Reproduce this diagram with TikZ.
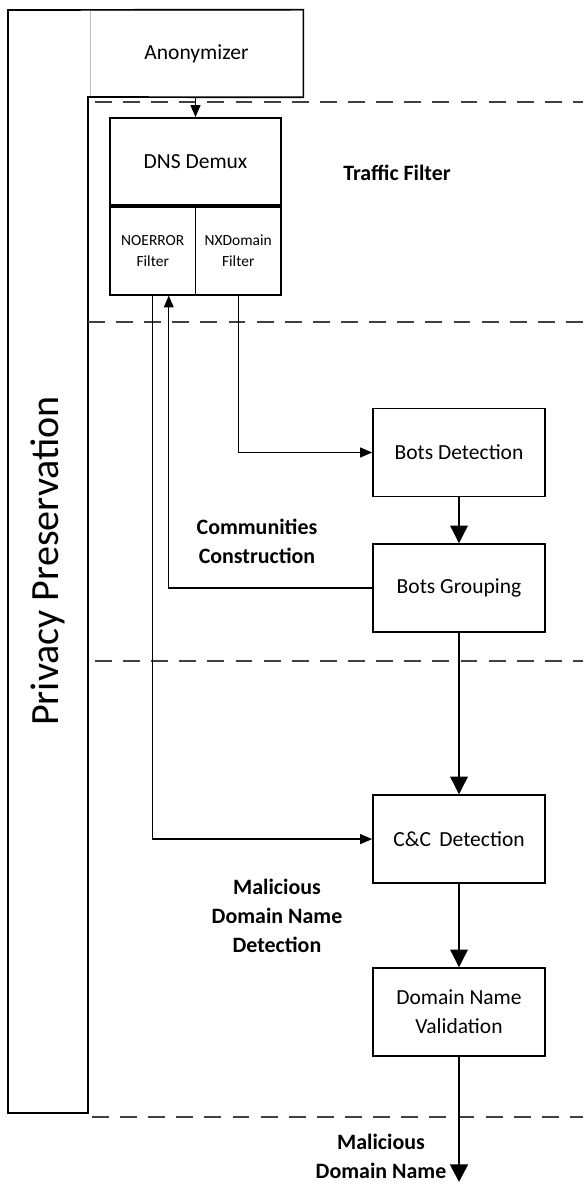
\documentclass[tikz,border=0pt]{standalone}
\usepackage{fontspec}
\setmainfont{Carlito}
\usetikzlibrary{arrows.meta,positioning}

\begin{document}
\begin{tikzpicture}
		\tikzstyle{block} =[ draw, line width=1.2pt, text width = 4.3cm, minimum height=2.2cm, inner sep=0pt, text badly centered, font=\fontsize{15.3}{20.6}\selectfont];
		\tikzstyle{filt} =[ draw, line width=1.2pt, text width = 2.1375cm, minimum height=2.2cm, inner sep=0pt, text badly centered, font=\fontsize{11}{15}\selectfont];
		\tikzstyle{stage} =[ align=center, font=\bfseries\fontsize{15.6}{20.5}\selectfont];
		\tikzstyle{divider} =[ dash pattern=on 12pt off 8pt, line width=2pt, black!75];
		\tikzstyle{link} =[ line width=0.9pt, -{Triangle[length=8.5pt,width=7pt]}];
		\tikzstyle{flow} =[ line width=0.9pt, -{Triangle[length=12.5pt,width=12.5pt]}];
		\useasboundingbox (0,0) rectangle (14.575,-29.6);

		\node[block, text width=5.325cm, minimum height=2.175cm, draw=black!25, line width=0.5pt] (anon) at (4.9125,-1.3375) {Anonymizer};
		\node[block, text width=4.275cm, minimum height=2.175cm] (demux) at (4.8875,-4.0375) {DNS Demux};
		\node[filt, anchor=north west] (noerr) at (demux.south west) {NOERROR\\Filter};
		\node[filt, anchor=north east] (nxdom) at (demux.south east) {NXDomain\\Filter};
		\node[block] (botdet) at (11.475,-11.3125) {Bots Detection};
		\node[block, below of = botdet, node distance=3.39cm] (botgrp) {Bots Grouping};
		\node[block, below of = botgrp, node distance=6.275cm] (cnc) {C\&C\, Detection};
		\node[block, below of = cnc, node distance=4.325cm] (dnv) {Domain Name\\Validation};
		\coordinate (sink) at (11.475,-29.55);

		\node[rotate=90, font=\fontsize{28.5}{34}\selectfont] (priv) at (1.2,-14.025) {Privacy Preservation};
		\node[stage] (traffic) at (9.925,-4.325) {Traffic Filter};
		\node[stage] (commun) at (6.425,-13.525) {Communities\\Construction};
		\node[stage] (maldet) at (6.925,-22.9) {Malicious\\Domain Name\\Detection};
		\node[stage] (malout) at (9.525,-28.9) {Malicious\\Domain Name};

		\draw[line width=1.2pt] (0.2,-0.25) -- (anon.north east) -- (anon.south east) -- (2.2,-2.425) -- (2.2,-27.825) -- (0.2,-27.825) -- cycle;

		% stage borders
		\draw[divider] (2.375,-2.55) -- (14.575,-2.55);
		\draw[divider] (2.2,-8.05) -- (14.575,-8.05);
		\draw[divider] (2.375,-16.525) -- (14.575,-16.525);
		\draw[divider] (2.3,-27.925) -- (14.575,-27.925);

		\draw[link] (demux.north |- anon.south) -- (demux.north);
		\draw[link] (noerr.south) |- (cnc.west);
		\draw[link] (botgrp.west) -| ([xshift=0.4cm]noerr.south);
		\draw[link] (nxdom.south) |- (botdet.west);
		\draw[flow] (botdet) -- (botgrp);
		\draw[flow] (botgrp) -- (cnc);
		\draw[flow] (cnc) -- (dnv);
		\draw[flow, line width=2pt] (dnv) -- (sink);
	\end{tikzpicture}
\end{document}
